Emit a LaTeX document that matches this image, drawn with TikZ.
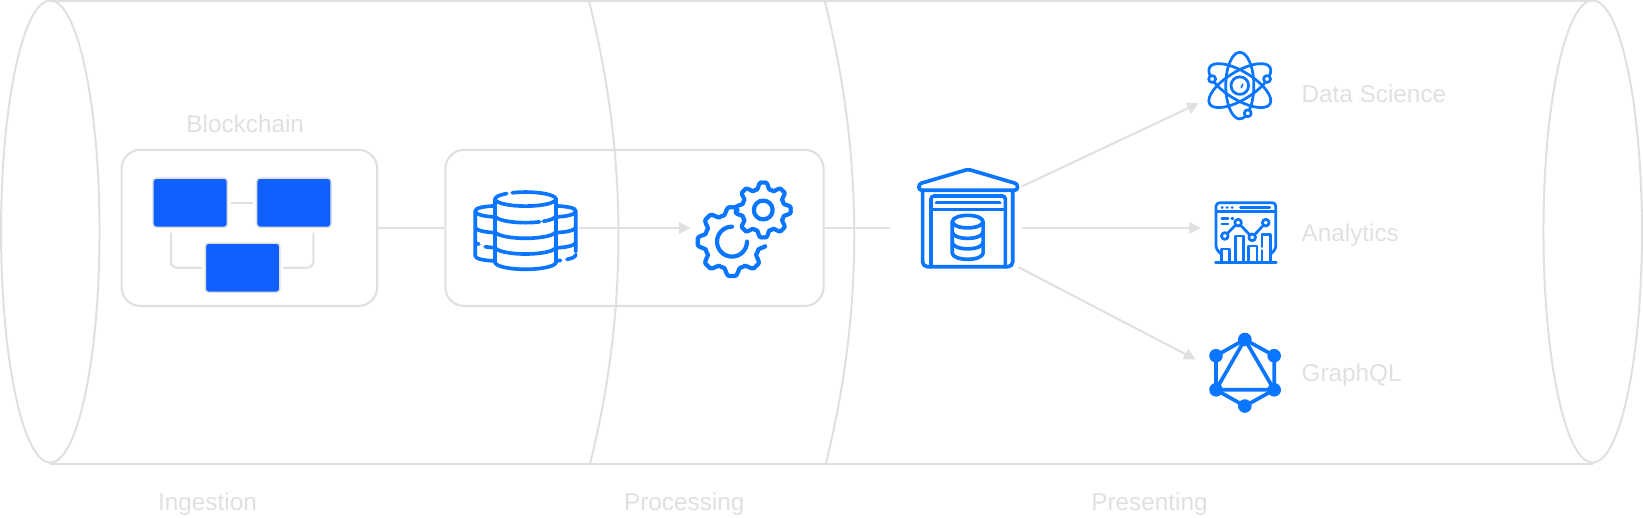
\documentclass[tikz,border=0pt]{standalone}
\usepackage{fontspec}
\setmainfont{Liberation Sans}
\usetikzlibrary{arrows.meta}
\definecolor{hair}{HTML}{E0E0E0}
\definecolor{iconblue}{HTML}{0A75FF}
\definecolor{blockblue}{HTML}{1060FF}
\tikzset{
  wire/.style={draw=hair,line width=2pt},
  flow/.style={wire,-{Triangle[length=11pt,width=11pt,fill=hair]}},
  tube/.style={draw=hair,line width=1.9pt},
  panel/.style={draw=hair,line width=2pt,rounded corners=18pt,fill=none},
  block/.style={draw=hair,line width=1.4pt,fill=blockblue,rounded corners=3pt,minimum width=71pt,minimum height=47pt,inner sep=0pt},
  caption/.style={text=hair,font=\fontsize{23.2}{27}\selectfont,inner sep=0pt},
  icon/.style={draw=iconblue,line width=3.5pt,line cap=round,line join=round},
  thick icon/.style={draw=iconblue,line width=4pt,line cap=round,line join=round},
  thin icon/.style={draw=iconblue,line width=2.6pt,line cap=round,line join=round},
  gnode/.style={circle,fill=iconblue,minimum size=13pt,inner sep=0pt},
}
\begin{document}
\begin{tikzpicture}[x=1pt,y=-1pt]
\useasboundingbox (0,0) rectangle (1568,493.4);
% cylinder
\draw[tube] (48,221) ellipse [x radius=47pt,y radius=220.5pt];
\draw[tube] (1520,221) ellipse [x radius=47pt,y radius=220.5pt];
\draw[tube] (48,0.8) -- (1520,0.8);
\draw[tube] (48,443) -- (1520,443);
\draw[tube] (562,0.8) .. controls (599.3,148) and (599.7,296) .. (563,443);
\draw[tube] (787,0.8) .. controls (824.3,148) and (824.7,296) .. (788,443);
% captions
\node[caption] (lchain) at (234,118.5) {Blockchain};
\node[caption] (ling) at (198,481.5) {Ingestion};
\node[caption] (lproc) at (653,481.5) {Processing};
\node[caption] (lpres) at (1097,481.5) {Presenting};
\node[caption,anchor=west] (lds) at (1242,90) {Data Science};
\node[caption,anchor=west] (lan) at (1242,224.5) {Analytics};
\node[caption,anchor=west] (lgq) at (1242,358.5) {GraphQL};
% panels
\node[panel,minimum width=244pt,minimum height=149pt,inner sep=0pt] (chain) at (238,217.5) {};
\node[panel,minimum width=361pt,minimum height=149pt,inner sep=0pt] (proc) at (605.5,217.5) {};
% blocks
\node[block] (b1) at (181.5,193.5) {};
\node[block] (b2) at (280.5,193.5) {};
\node[block] (b3) at (231.5,255.5) {};
\draw[wire,shorten <=3pt,shorten >=3pt] (b1) -- (b2);
\coordinate (c1) at (163,222);
\coordinate (c2) at (299,222);
\coordinate (c3) at (192.5,255.5);
\coordinate (c4) at (270.5,255.5);
\draw[wire,rounded corners=6pt] (c1) |- (c3);
\draw[wire,rounded corners=6pt] (c2) |- (c4);
% connectors
\coordinate (dbr) at (553,217.5);
\coordinate (gl) at (659,217.5);
\coordinate (ware) at (849,217.5);
\coordinate (w1) at (975,178);
\coordinate (w2) at (975,217.5);
\coordinate (w3) at (972,255);
\coordinate (t1) at (1144,98.5);
\coordinate (t2) at (1146,217.5);
\coordinate (t3) at (1141,343);
\draw[wire] (chain) -- (proc);
\draw[flow] (dbr) -- (gl);
\draw[wire] (proc.east) -- (ware);
\draw[flow] (w1) -- (t1);
\draw[flow] (w2) -- (t2);
\draw[flow] (w3) -- (t3);
% database icon
\begin{scope}[icon]
\draw (501.5,190) ++(116:29pt and 6.7pt) arc [start angle=116,end angle=-232,x radius=29pt,y radius=6.7pt];
\draw (472.5,190) -- (472.5,250.3);
\draw (530.5,190) -- (530.5,250.3);
\draw (472.5,205.8) arc [start angle=180,end angle=298,x radius=29pt,y radius=6.7pt];
\draw (472.5,205.8) ++(29pt,0pt) ++(306:29pt and 6.7pt) arc [start angle=306,end angle=360,x radius=29pt,y radius=6.7pt];
\draw (472.5,220.7) arc [start angle=180,end angle=360,x radius=29pt,y radius=6.7pt];
\draw (472.5,235.7) arc [start angle=180,end angle=360,x radius=29pt,y radius=6.7pt];
\draw (472.5,250.3) arc [start angle=180,end angle=360,x radius=29pt,y radius=6.7pt];
% left stack
\draw (472,196.5) .. controls (461,197) and (453.5,198.5) .. (453.5,201.5) -- (453.5,244) .. controls (453.5,247) and (461,248.5) .. (472,249);
\draw (453.5,201.5) .. controls (453.5,204.5) and (461,206.5) .. (472,207);
\draw (453.5,216.5) .. controls (453.5,219.5) and (461,221.5) .. (472,222);
\draw (453.5,231) .. controls (454,232) and (455,232.5) .. (457,233);
\draw (463,235.5) -- (472,236.5);
% right stack
\draw (531,196.5) .. controls (542,197) and (549.5,198.5) .. (549.5,201.5) -- (549.5,240);
\draw (549.5,201.5) .. controls (549.5,204.5) and (542,206.5) .. (531,207);
\draw (549.5,216.5) .. controls (549.5,219.5) and (542,221.5) .. (531,222);
\draw (549.5,231) .. controls (549.5,234) and (542,236) .. (531,236.5);
\draw (549.5,243) .. controls (549,245.5) and (546,246.5) .. (541,247.5);
\draw (531,249) -- (535,248.5);
\end{scope}
% gears
\draw[thick icon] plot[variable=\t,domain=80:352,samples=220] ({698.6+(29.5+3.9*(cos(8*\t)-0.18*cos(24*\t)))*cos(\t)},{230.6-(29.5+3.9*(cos(8*\t)-0.18*cos(24*\t)))*sin(\t)});
\draw[thick icon] (698.6,216.3) arc [start angle=90,end angle=360,radius=14.3pt];
\draw[thick icon] plot[variable=\t,domain=0:360,samples=260] ({728.4+(23.3+3.4*(cos(8*\t)-0.18*cos(24*\t)))*cos(\t)},{200.4-(23.3+3.4*(cos(8*\t)-0.18*cos(24*\t)))*sin(\t)});
\draw[thick icon] (728.4,200.4) circle [radius=9pt];
% warehouse
\begin{scope}[icon]
\draw[rounded corners=2.5pt] (924,161.6) -- (971,175.5) -- (971,181.5) -- (877,181.5) -- (877,175.5) -- cycle;
\draw (880.5,181.5) -- (880.5,250) arc [start angle=180,end angle=270,radius=4.5pt] -- (962,254.5) arc [start angle=270,end angle=360,radius=4.5pt] -- (966.5,181.5);
\draw[rounded corners=3pt] (888.5,254.5) -- (888.5,187) -- (959.5,187) -- (959.5,254.5);
\draw (893.8,193.4) -- (954,193.4);
\draw (888.5,199.8) -- (959.5,199.8);
\draw (923.5,211.5) ellipse [x radius=14.7pt,y radius=6pt];
\draw (908.8,211.5) -- (908.8,241.5) arc [start angle=180,end angle=360,x radius=14.7pt,y radius=6pt] -- (938.2,211.5);
\draw (908.8,221.5) arc [start angle=180,end angle=360,x radius=14.7pt,y radius=6pt];
\draw (908.8,231.5) arc [start angle=180,end angle=360,x radius=14.7pt,y radius=6pt];
\end{scope}
% atom
\begin{scope}[thin icon]
\draw (1183.2,81.7) ellipse [x radius=13.4pt,y radius=31.8pt];
\draw[rotate around={31.5:(1183.2,81.7)}] (1183.2,81.7) ellipse [x radius=33.7pt,y radius=13.4pt];
\draw[rotate around={-31.5:(1183.2,81.7)}] (1183.2,81.7) ellipse [x radius=33.7pt,y radius=13.4pt];
\draw[fill=white] (1183.2,81.7) circle [radius=8.4pt];
\draw[line width=1.6pt] (1184.6,83.6) -- (1186,80.4);
\draw[fill=white] (1156.8,75.4) circle [radius=3.3pt];
\draw[fill=white] (1209.2,75.4) circle [radius=3.3pt];
\draw[fill=white] (1190.8,108.1) circle [radius=3.3pt];
\end{scope}
% analytics
\begin{scope}[thin icon]
\draw[rounded corners=3.5pt] (1165,242) -- (1160.5,238) -- (1160.5,193.4) -- (1217.6,193.4) -- (1217.6,238) -- (1213,242);
\draw (1160.5,202) -- (1217.6,202);
\draw (1160,250.6) -- (1218,250.6);
\draw (1165.4,250.6) -- (1165.4,237.6) -- (1173.4,237.6) -- (1173.4,250.6);
\draw (1179,250.6) -- (1179,225.2) -- (1187,225.2) -- (1187,250.6);
\draw (1191.7,250.6) -- (1191.7,234.7) -- (1199.7,234.7) -- (1199.7,250.6);
\draw (1204.4,250.6) -- (1204.4,239);
\draw (1204.4,235.5) -- (1204.4,223.6) -- (1212.4,223.6) -- (1212.4,250.6);
\draw (1168.9,225.2) -- (1181.6,212.5) -- (1195,226.5) -- (1208,212.5);
\draw[fill=white] (1168.9,225.2) circle [radius=3.2pt];
\draw[fill=white] (1181.6,212.5) circle [radius=3.2pt];
\draw[fill=white] (1195,226.5) circle [radius=3.2pt];
\draw[fill=white] (1208,212.5) circle [radius=3.2pt];
\draw (1166,208.3) -- (1172,208.3);
\draw (1175.5,208.3) -- (1176.6,208.3);
\draw (1166,213.8) -- (1172,213.8);
\draw (1166.3,198) -- (1166.5,198);
\draw (1171,198) -- (1171.2,198);
\draw (1175.8,198) -- (1176,198);
\draw (1183.8,197.9) -- (1211.8,197.9);
\end{scope}
% graphql
\node[gnode] (g1) at (1188,324) {};
\node[gnode] (g2) at (1216,339.5) {};
\node[gnode] (g3) at (1216,372) {};
\node[gnode] (g4) at (1188,387.5) {};
\node[gnode] (g5) at (1160.5,372) {};
\node[gnode] (g6) at (1160.5,339.5) {};
\draw[icon] (g1.center) -- (g2.center) -- (g3.center) -- (g4.center) -- (g5.center) -- (g6.center) -- cycle;
\draw[icon] (g1.center) -- (g3.center) -- (g5.center) -- cycle;
\end{tikzpicture}
\end{document}
